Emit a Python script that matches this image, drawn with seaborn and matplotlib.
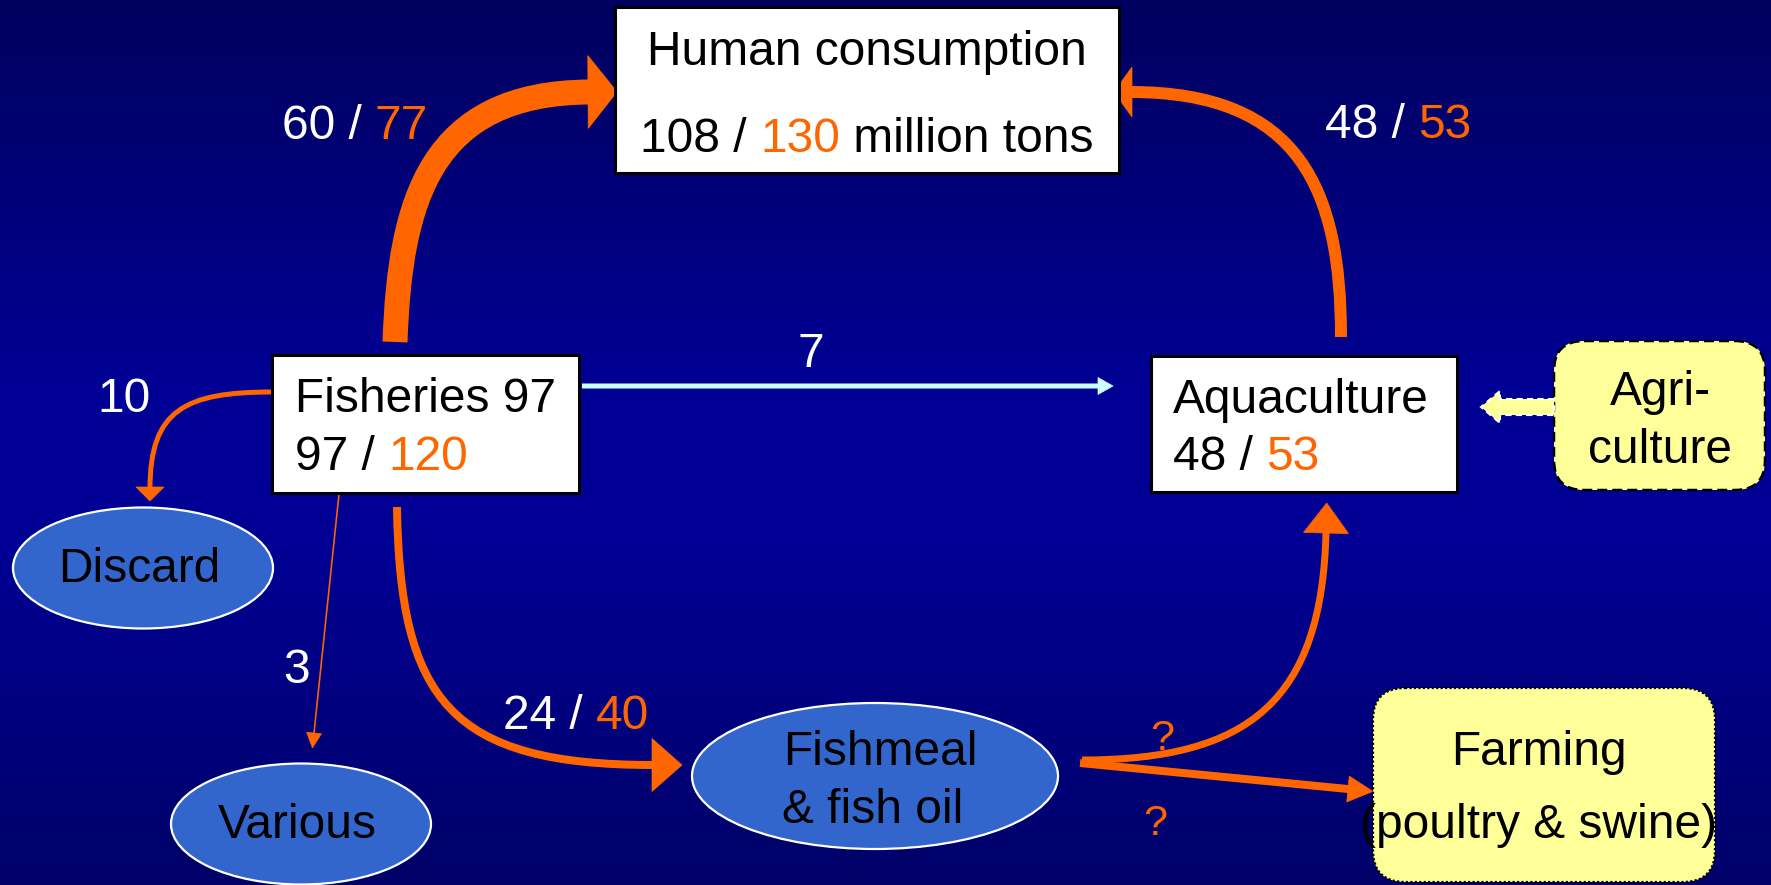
import numpy as np
import matplotlib
matplotlib.use("Agg")
import matplotlib.pyplot as plt
import seaborn as sns
from matplotlib.patches import FancyBboxPatch, Ellipse, Rectangle, Polygon, PathPatch
from matplotlib.path import Path
from matplotlib.colors import to_rgb

# ---------------- data ----------------
human_cons = [108, 130]          # million tons (now / projected)
fisheries = [97, 120]
aquaculture = [48, 53]
flow_fish_human = [60, 77]
flow_aqua_human = [48, 53]
flow_fish_meal = [24, 40]
flow_fish_aqua = 7
flow_fish_discard = 10
flow_fish_various = 3
node_names = ["Human consumption", "Fisheries", "Aquaculture", "Agri-\nculture",
              "Discard", "Various", "Fishmeal\n& fish oil", "Farming\n(poultry & swine)"]

# ---------------- style ----------------
ORANGE = "#FF6600"
WHITE = "#FFFFFF"
BLACK = "#000000"
CYAN = "#CCFFFF"
ELLIPSE = "#3366CC"
YELLOW = "#FFFF99"
FS = 34.5

sns.set_theme(style="white")
plt.rcParams["font.family"] = ["Liberation Sans", "DejaVu Sans"]

W, H, DPI = 1771, 885, 100
fig = plt.figure(figsize=(W / DPI, H / DPI), dpi=DPI)
ax = fig.add_axes([0, 0, 1, 1])
ax.set_xlim(0, W)
ax.set_ylim(H, 0)
ax.axis("off")

# background gradient
stops = [(0.0, "#00005E"), (0.45, "#000096"), (0.62, "#000094"), (1.0, "#000068")]
ys = np.linspace(0, 1, 400)
cols = np.zeros((400, 1, 3))
for ch in range(3):
    cols[:, 0, ch] = np.interp(ys, [s[0] for s in stops], [to_rgb(s[1])[ch] for s in stops])
ax.imshow(cols, extent=(0, W, H, 0), aspect="auto", zorder=0)

PT = 72.0 / DPI


def flow(p0, c1, c2, p3, width, head_len, head_w, color, z=3):
    p0, c1, c2, p3 = map(np.array, (p0, c1, c2, p3))
    d = p3 - c2
    d = d / np.linalg.norm(d)
    n = np.array([-d[1], d[0]])
    end = p3 + d * 1.5
    path = Path([p0, c1, c2, end], [Path.MOVETO, Path.CURVE4, Path.CURVE4, Path.CURVE4])
    ax.add_patch(PathPatch(path, fill=False, lw=width * PT, ec=color,
                           capstyle="butt", joinstyle="round", zorder=z))
    tip = p3 + d * head_len
    ax.add_patch(Polygon([tip, p3 + n * head_w / 2, p3 - n * head_w / 2],
                         closed=True, fc=color, ec=color, lw=0.5, zorder=z))


def straight(p0, p3, width, head_len, head_w, color, z=3):
    p0, p3 = np.array(p0, float), np.array(p3, float)
    flow(p0, p0 + (p3 - p0) / 3, p0 + 2 * (p3 - p0) / 3, p3, width, head_len, head_w, color, z)


fig.canvas.draw()
renderer = fig.canvas.get_renderer()


def text_w(s, size):
    t = ax.text(0, 0, s + "|", fontsize=size)
    w = t.get_window_extent(renderer).width
    t.remove()
    t = ax.text(0, 0, "|", fontsize=size)
    wb = t.get_window_extent(renderer).width
    t.remove()
    return w - wb


def rich(x, y, parts, ha="center", size=FS, z=6):
    widths = []
    acc = ""
    for s, _ in parts:
        acc += s
        widths.append(text_w(acc, size))
    total = widths[-1]
    x0 = x - total / 2 if ha == "center" else x
    prev = 0.0
    for (s, c), w in zip(parts, widths):
        ax.text(x0 + prev, y, s.rstrip() if s.strip() else s, color=c, fontsize=size,
                ha="left", va="baseline", zorder=z)
        prev = w


# ---------------- nodes ----------------
def box(x0, y0, x1, y1):
    ax.add_patch(Rectangle((x0, y0), x1 - x0, y1 - y0, fc="white", ec=BLACK, lw=2.2, zorder=4))


box(615, 7, 1119, 173)      # human consumption
box(272, 355, 579, 493)     # fisheries
box(1151, 356, 1457, 492)   # aquaculture

agri = FancyBboxPatch((1554, 341), 211, 149, boxstyle="round,pad=0,rounding_size=30",
                      fc=YELLOW, ec=BLACK, lw=1.8, ls=(0, (4, 2)), zorder=4)
ax.add_patch(agri)
farm = FancyBboxPatch((1373, 688), 342, 194, boxstyle="round,pad=0,rounding_size=32",
                      fc=YELLOW, ec=BLACK, lw=1.6, ls=(0, (1, 1)), zorder=4)
ax.add_patch(farm)

for (cx, cy, ew, eh) in [(143, 568, 260, 121), (301, 824, 260, 121), (875, 776, 366, 146)]:
    ax.add_patch(Ellipse((cx, cy), ew, eh, fc=ELLIPSE, ec=WHITE, lw=1.6, zorder=4))

# ---------------- flows ----------------
flow((395, 342), (400, 200), (430, 93), (588, 92), 25, 29, 73, ORANGE)          # fisheries -> human
flow((1341, 337), (1341, 190), (1300, 92), (1132, 92), 12, 18, 50, ORANGE)      # aquaculture -> human
straight((582, 386), (1098, 386), 5, 15, 17, CYAN)                               # fisheries -> aquaculture
flow((397, 507), (400, 700), (450, 765), (652, 765), 8, 30, 53, ORANGE)          # fisheries -> fishmeal
flow((1082, 760), (1250, 760), (1322, 700), (1326, 533), 7, 30, 45, ORANGE)     # fishmeal -> aquaculture
straight((1080, 763), (1348, 789), 8, 25, 26, ORANGE)                            # fishmeal -> farming
flow((272, 392), (185, 392), (150, 410), (150, 487), 5, 14, 28, ORANGE)          # fisheries -> discard
straight((339, 494), (314, 733), 1.6, 15, 15, ORANGE)                            # fisheries -> various

# agriculture -> aquaculture block arrow
ax.add_patch(Polygon([(1554, 399), (1500, 399), (1500, 391), (1481, 407), (1500, 423),
                      (1500, 415), (1554, 415)], closed=True, fc=YELLOW, ec=WHITE,
                     lw=1.5, ls=(0, (3, 2)), zorder=5))

# ---------------- texts ----------------
rich(867, 65, [(node_names[0], BLACK)])
rich(867, 152, [(f"{human_cons[0]} / ", BLACK), (f"{human_cons[1]}", ORANGE), (" million tons", BLACK)])
rich(295, 412, [(f"{node_names[1]} {fisheries[0]}", BLACK)], ha="left")
rich(295, 470, [(f"{fisheries[0]} / ", BLACK), (f"{fisheries[1]}", ORANGE)], ha="left")
rich(1173, 413, [(node_names[2], BLACK)], ha="left")
rich(1173, 470, [(f"{aquaculture[0]} / ", BLACK), (f"{aquaculture[1]}", ORANGE)], ha="left")
agri_lines = node_names[3].split("\n")
rich(1660, 405, [(agri_lines[0], BLACK)])
rich(1660, 463, [(agri_lines[1], BLACK)])

rich(355, 139, [(f"{flow_fish_human[0]} / ", WHITE), (f"{flow_fish_human[1]}", ORANGE)])
rich(1398, 138, [(f"{flow_aqua_human[0]} / ", WHITE), (f"{flow_aqua_human[1]}", ORANGE)])
rich(811, 367, [(f"{flow_fish_aqua}", WHITE)])
rich(124, 412, [(f"{flow_fish_discard}", WHITE)])
rich(297, 683, [(f"{flow_fish_various}", WHITE)])
rich(576, 729, [(f"{flow_fish_meal[0]} / ", WHITE), (f"{flow_fish_meal[1]}", ORANGE)])
rich(1162, 750, [("?", ORANGE)], size=31)
rich(1155, 835, [("?", ORANGE)], size=31)

rich(139, 582, [(node_names[4], BLACK)])
rich(297, 838, [(node_names[5], BLACK)])
fm = node_names[6].split("\n")
rich(880, 765, [(fm[0], BLACK)])
rich(873, 823, [(fm[1], BLACK)])
fa = node_names[7].split("\n")
rich(1539, 765, [(fa[0], BLACK)])
rich(1539, 838, [(fa[1], BLACK)])

fig.savefig("out.png", dpi=DPI)
